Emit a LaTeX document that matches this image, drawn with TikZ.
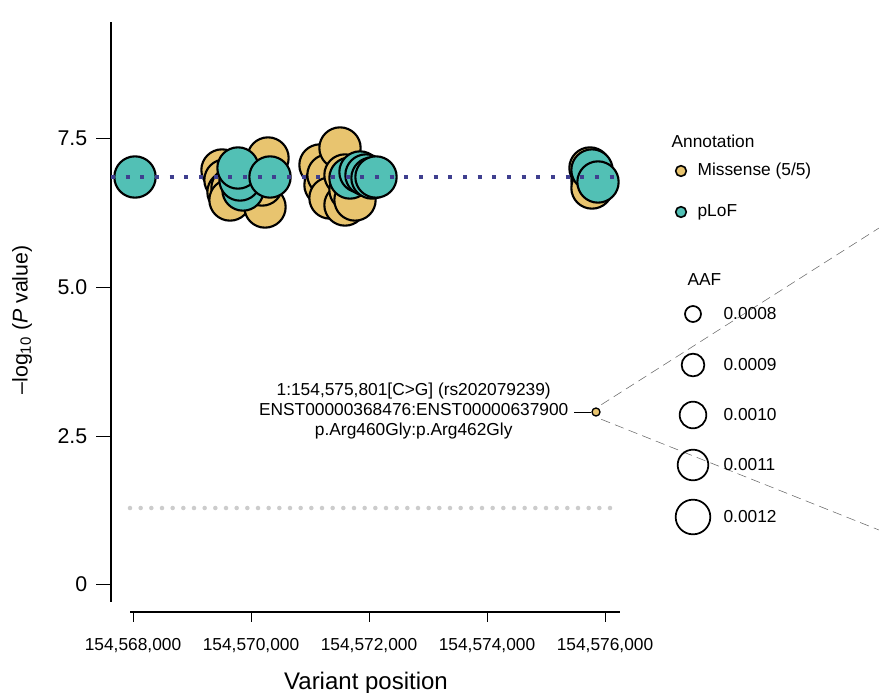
\documentclass[tikz,border=0pt]{standalone}
\usepackage{fontspec}
\setmainfont{Liberation Sans}
\definecolor{yel}{HTML}{E8C46F}
\definecolor{teal2}{HTML}{52C0B5}
\definecolor{dotblue}{HTML}{3F3F8F}
\tikzset{
 ym/.style={circle,draw=black,line width=1.6pt,fill=yel,minimum size=31pt,inner sep=0pt},
 tl/.style={circle,draw=black,line width=1.6pt,fill=teal2,minimum size=31pt,inner sep=0pt},
 lab/.style={font=\fontsize{13}{15}\selectfont,inner sep=1pt},
 tick/.style={font=\fontsize{16}{18}\selectfont},
}
\begin{document}
\begin{tikzpicture}[x=0.75pt,y=-0.75pt]
\useasboundingbox (0,0) rectangle (879,693);
% axes
\draw[line width=0.8pt] (111,22) -- (111,602);
\draw[line width=0.8pt] (130,612) -- (620,612);
\foreach \v/\y in {7.5/138,5.0/287,2.5/436,0/584}{
 \draw (96,\y) -- (111,\y);
 \node[tick,anchor=east] at (92,\y) {\v};}
\foreach \x/\l in {133/154{,}568{,}000,251/154{,}570{,}000,369/154{,}572{,}000,487/154{,}574{,}000,605/154{,}576{,}000}{
 \draw (\x,612) -- (\x,622);
 \node[lab,anchor=north] at (\x,637) {\l};}
\node[rotate=90,font=\fontsize{16}{18}\selectfont] (ylab) at (22,320) {–log\textsubscript{10} (\textit{P} value)};
\node[font=\fontsize{18}{20}\selectfont] (xlab) at (366,683) {Variant position};
% grey line
\draw[gray!40,line width=3.4pt,line cap=round,dash pattern=on 0pt off 8pt] (130,508) -- (620,508);
% circles
\foreach \x/\y in {222/170,225/180,228/192,232/188,230/200,240/170,245/182,250/175,268/158,265/207,262/185}
 \node[ym] at (\x,\y) {};
\foreach \x/\y in {243/190,240/180,238/168,270/177}
 \node[tl] at (\x,\y) {};
\foreach \x/\y in {320/165,325/185,328/175,330/198,340/148,345/205,345/175,350/190,355/200,360/175}
 \node[ym] at (\x,\y) {};
\foreach \x/\y in {350/178,360/172,366/175,372/178,376/177}
 \node[tl] at (\x,\y) {};
\foreach \x/\y in {590/168,592/180,592/188}
 \node[ym] at (\x,\y) {};
\foreach \x/\y in {592/170,598/182}
 \node[tl] at (\x,\y) {};
\node[tl] (p1) at (135,177) {};
\draw[dotblue,line width=3pt,dash pattern=on 3pt off 8pt] (111,177) -- (620,177);
% highlighted point
\node[circle,draw=black,line width=1pt,fill=yel,minimum size=6pt,inner sep=0pt] (pt) at (596,412) {};
\coordinate (d1) at (879,228);
\coordinate (d2) at (879,530);
\draw[gray!80!black,dash pattern=on 7pt off 4pt] (pt.north east) ++(2,-4) -- (d1);
\draw[gray!80!black,dash pattern=on 7pt off 4pt] (pt.south east) ++(2,4) -- (d2);
\node[lab,align=center,anchor=east] (ann) at (570,411) {1:154,575,801[C>G] (rs202079239)\\ENST00000368476:ENST00000637900\\p.Arg460Gly:p.Arg462Gly};
\draw (ann.east) ++(4,1) -- (pt.west);
% legend
\node[lab,anchor=west] at (670,141) {Annotation};
\node[circle,draw=black,line width=1.2pt,fill=yel,minimum size=8pt,inner sep=0pt] (l1) at (681,171) {};
\node[lab,anchor=west] at (696,171) {Missense (5/5)};
\node[circle,draw=black,line width=1.2pt,fill=teal2,minimum size=8pt,inner sep=0pt] (l2) at (681,212) {};
\node[lab,anchor=west] at (696,212) {pLoF};
\node[lab,anchor=west] at (686,280) {AAF};
\foreach \y/\r/\t in {314/12/0.0008,365/17/0.0009,415/20/0.0010,465/23/0.0011,517/26/0.0012}{
 \node[circle,draw=black,line width=1.3pt,minimum size=\r pt,inner sep=0pt] at (693,\y) {};
 \node[lab,anchor=west] at (722,\y) {\t};}
\end{tikzpicture}
\end{document}
